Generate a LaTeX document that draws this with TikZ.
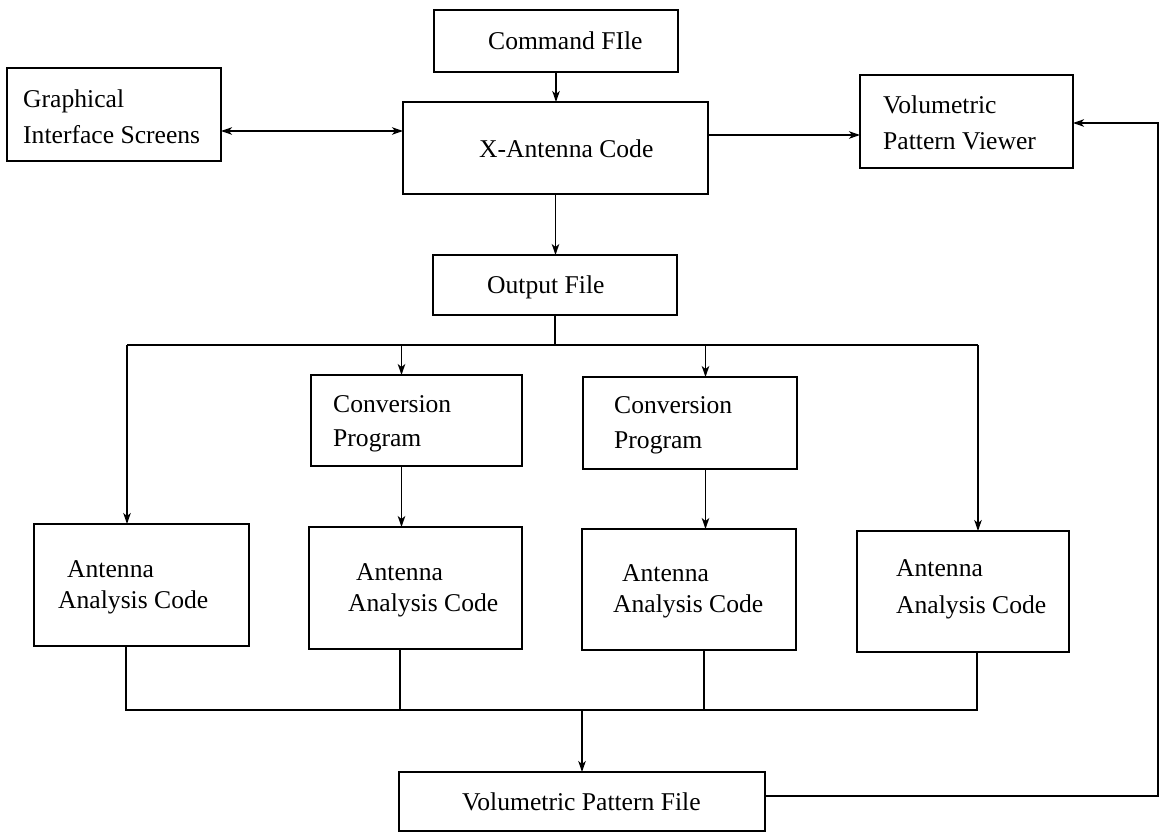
\documentclass[tikz,border=0pt]{standalone}
\usepackage{fontspec}
\setmainfont{Liberation Serif}
\usetikzlibrary{arrows.meta,calc}
\begin{document}
\begin{tikzpicture}[x=1pt,y=-1pt,
  box/.style={draw,line width=1.5pt,inner sep=0pt,outer sep=0pt},
  lbl/.style={anchor=base west,inner sep=0pt,font=\fontsize{25.6}{30}\selectfont},
  ln/.style={line width=1.4pt},
  arr/.style={ln,-{Stealth[length=11pt,width=7.5pt,inset=3pt]}},
  darr/.style={ln,{Stealth[length=11pt,width=7.5pt,inset=3pt]}-{Stealth[length=11pt,width=7.5pt,inset=3pt]}}]
\useasboundingbox (0,0) rectangle (1160,833);
\fill[white] (0,0) rectangle (1160,833);
% boxes
\node[box,minimum width=244pt,minimum height=62pt] (cmd) at (556,41) {};
\node[box,minimum width=214pt,minimum height=93pt] (gui) at (114,114.5) {};
\node[box,minimum width=305pt,minimum height=92pt] (xant) at (555.5,148) {};
\node[box,minimum width=213pt,minimum height=93pt] (view) at (966.5,121.5) {};
\node[box,minimum width=244pt,minimum height=60pt] (out) at (555,285) {};
\node[box,minimum width=211pt,minimum height=91pt] (conv1) at (416.5,420.5) {};
\node[box,minimum width=214pt,minimum height=92pt] (conv2) at (690,423) {};
\node[box,minimum width=215pt,minimum height=122pt] (aac1) at (141.5,585) {};
\node[box,minimum width=213pt,minimum height=122pt] (aac2) at (415.5,588) {};
\node[box,minimum width=214pt,minimum height=121pt] (aac3) at (689,589.5) {};
\node[box,minimum width=212pt,minimum height=121pt] (aac4) at (963,591.5) {};
\node[box,minimum width=366pt,minimum height=59pt] (vpf) at (582,801.5) {};
% labels
\node[lbl] (tcmd) at (488,49) {Command FIle};
\node[lbl] (tgui1) at (23,107) {Graphical};
\node[lbl] (tgui2) at (23,143) {Interface Screens};
\node[lbl] (txant) at (479,157) {X-Antenna Code};
\node[lbl] (tview1) at (883,113) {Volumetric};
\node[lbl] (tview2) at (883,149) {Pattern Viewer};
\node[lbl] (tout) at (487,293) {Output File};
\node[lbl] (tc1a) at (333,412) {Conversion};
\node[lbl] (tc1b) at (333,446) {Program};
\node[lbl] (tc2a) at (614,413) {Conversion};
\node[lbl] (tc2b) at (614,448) {Program};
\node[lbl] (ta1a) at (67,577) {Antenna};
\node[lbl] (ta1b) at (58,608) {Analysis Code};
\node[lbl] (ta2a) at (356,580) {Antenna};
\node[lbl] (ta2b) at (348,611) {Analysis Code};
\node[lbl] (ta3a) at (622,581) {Antenna};
\node[lbl] (ta3b) at (613,612) {Analysis Code};
\node[lbl] (ta4a) at (896,576) {Antenna};
\node[lbl] (ta4b) at (896,613) {Analysis Code};
\node[lbl] (tvpf) at (462,810) {Volumetric Pattern File};
% junction coordinates
\coordinate (g1) at (221,131);
\coordinate (v1) at (708,135);
\coordinate (bL) at (127,345);
\coordinate (bR) at (978,345);
\coordinate (bC1) at (401.5,345);
\coordinate (bC2) at (705.5,345);
\coordinate (dL) at (126,710);
\coordinate (dR) at (977,710);
\coordinate (d2) at (400,710);
\coordinate (d3) at (704,710);
\coordinate (fb) at (1158,796);
\coordinate (fbt) at (1158,123);
% connectors
\draw[arr] (cmd.south) -- (cmd.south |- xant.north);
\draw[darr] (g1 -| gui.east) -- (g1 -| xant.west);
\draw[arr] (v1 -| xant.east) -- (v1 -| view.west);
\draw[arr] (xant.south) -- (xant.south |- out.north);
\draw[ln] (out.south) -- (out.south |- bL);
\draw[ln] (bL) -- (bR);
\draw[arr] (bL) -- (bL |- aac1.north);
\draw[arr] (bC1) -- (bC1 |- conv1.north);
\draw[arr] (bC2) -- (bC2 |- conv2.north);
\draw[arr] (bR) -- (bR |- aac4.north);
\draw[arr] (bC1 |- conv1.south) -- (bC1 |- aac2.north);
\draw[arr] (bC2 |- conv2.south) -- (bC2 |- aac3.north);
\draw[ln] (dL |- aac1.south) -- (dL) -- (dR) -- (dR |- aac4.south);
\draw[ln] (d2 |- aac2.south) -- (d2);
\draw[ln] (d3 |- aac3.south) -- (d3);
\draw[arr] (vpf.north |- dL) -- (vpf.north);
\draw[arr] (fb -| vpf.east) -- (fb) -- (fbt) -- (fbt -| view.east);
\end{tikzpicture}
\end{document}
